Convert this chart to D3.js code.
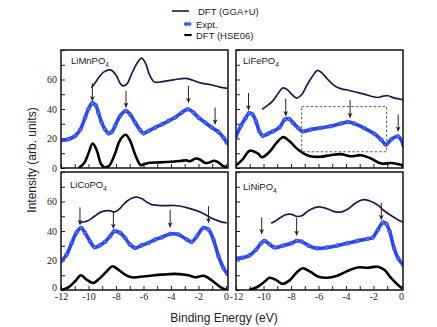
<!DOCTYPE html>
<html>
<head>
<meta charset="utf-8">
<script src="https://cdn.jsdelivr.net/npm/d3@7"></script>
<style>
  body { margin: 0; background: #fff; }
  svg { display: block; }
</style>
</head>
<body>
<svg id="chart" width="437" height="327"></svg>
<script>
// values: [binding energy (eV), intensity]
var mnGGA = [[-9.78,54.5],[-9.5,58],[-9.2,62],[-8.9,65],[-8.4,66.5],[-8.0,63],[-7.7,57.5],[-7.5,55.7],[-7.2,57],[-6.9,63],[-6.5,70.5],[-6.15,74.5],[-5.85,71],[-5.55,63],[-5.2,58.3],[-4.6,58.6],[-3.8,59.8],[-2.9,60.8],[-2.4,59.5],[-1.8,57.5],[-1.0,56.3],[-0.5,55],[0.1,54]];
var mnExpt = [[-12,18.8],[-11.47,19.5],[-10.98,21.7],[-10.6,26],[-10.25,34],[-10.0,40],[-9.72,44],[-9.47,42.5],[-9.28,37.5],[-9.04,30.8],[-8.8,26.2],[-8.55,23.5],[-8.31,24.4],[-8.07,28.5],[-7.7,35.3],[-7.29,38.7],[-6.98,36.4],[-6.6,30.8],[-6.25,25.8],[-6.0,23.5],[-5.64,25.1],[-5.16,27.4],[-4.67,29.6],[-4.18,31.9],[-3.7,34.2],[-3.21,37.6],[-2.78,39.8],[-2.36,37.6],[-2.0,34.2],[-1.51,30.8],[-1.03,27.4],[-0.54,24.4],[-0.18,20.6],[0.06,17.2]];
var mnHSE = [[-10.7,0],[-10.3,3.5],[-10.0,10],[-9.7,16.6],[-9.4,12],[-9.1,3],[-8.85,0.5],[-8.5,1.5],[-8.1,9],[-7.7,19],[-7.3,22.5],[-7.0,19],[-6.6,9],[-6.2,2],[-5.9,2.8],[-5.5,3.6],[-4.8,3.8],[-4.0,4.2],[-3.3,4.8],[-2.9,5.2],[-2.6,4.6],[-2.2,6.4],[-1.9,5.8],[-1.5,3.4],[-1.2,3.8],[-0.85,4.9],[-0.5,3.5],[-0.2,1.2],[0.1,0.3]];
var mnArrows = [[-9.72,57.5,45.5],[-7.27,52.3,41],[-2.73,55.7,44.3],[-0.79,41,29.6]];

var feGGA = [[-10.1,39.8],[-9.7,42.5],[-9.32,45.5],[-8.9,51],[-8.58,54.3],[-8.25,53],[-7.96,50.1],[-7.59,47.4],[-7.2,50],[-6.85,55.9],[-6.45,62],[-6.06,66.2],[-5.7,64],[-5.37,60.5],[-5.0,57],[-4.64,54.7],[-4.2,53.3],[-3.9,52.9],[-3.3,51.5],[-2.67,50.1],[-2.1,48.5],[-1.68,47.8],[-1.3,48.7],[-0.94,49],[-0.5,47.5],[0.17,46.2]];
var feExpt = [[-12.0,21.4],[-11.66,28.3],[-11.29,34],[-11.05,37.2],[-10.8,36.3],[-10.55,31.7],[-10.3,24.8],[-10.05,21.8],[-9.68,23.2],[-9.32,24.8],[-8.82,27.6],[-8.45,32.9],[-8.13,33.3],[-7.84,30.6],[-7.47,27.1],[-7.15,24.8],[-6.6,26],[-5.87,27.1],[-5.13,28.3],[-4.39,30.1],[-3.85,31.2],[-3.4,30.1],[-2.67,27.1],[-1.93,23.2],[-1.43,19.1],[-1.1,15.8],[-0.69,19.5],[-0.2,21.4],[0.17,15.6]];
var feHSE = [[-12.0,1.8],[-11.53,5.7],[-11.0,11.7],[-10.42,9.9],[-10.1,7.3],[-9.56,11],[-9.07,16.8],[-8.58,20.9],[-8.08,17.9],[-7.59,13.3],[-7.1,9.9],[-6.6,8],[-5.87,7.6],[-5.13,8.7],[-4.39,9.4],[-3.65,8],[-2.91,8.7],[-2.17,6.4],[-1.43,3],[-0.69,3.4],[0.17,1.8]];
var feArrows = [[-11.09,50.8,39.1],[-8.38,47.1,35.2],[-3.7,46,34],[-0.2,36.3,24.8]];
var feBox = [-7.22,-1.04,11,41.6];

var coGGA = [[-10.69,45.5],[-10.3,46.3],[-10.01,47.1],[-9.7,49],[-9.4,51.1],[-9.1,52.8],[-8.8,53.6],[-8.5,53.8],[-8.1,53],[-7.8,54.5],[-7.5,57.5],[-7.2,60.2],[-6.85,62.2],[-6.45,62.9],[-6.1,61.8],[-5.75,59.5],[-5.4,57.9],[-4.67,57.2],[-3.8,57.3],[-3.2,56.6],[-2.73,55.5],[-2.2,54],[-1.8,52.5],[-1.3,50],[-0.79,47.7],[-0.35,46.2],[0.06,45.5]];
var coExpt = [[-12,19.5],[-11.59,24],[-11.22,31.9],[-10.86,39.1],[-10.54,42.1],[-10.25,38.7],[-9.89,33],[-9.57,29],[-9.16,30.3],[-8.8,32.6],[-8.43,36.4],[-8.12,39.8],[-7.7,38.7],[-7.34,35.3],[-6.98,30.8],[-6.61,28.5],[-6.13,30.3],[-5.64,31.9],[-5.16,34.2],[-4.67,35.7],[-4.06,38],[-3.46,37.6],[-2.85,34.2],[-2.49,32.6],[-2.12,36.4],[-1.64,42.1],[-1.27,41],[-0.91,34.2],[-0.54,22.9],[-0.18,14.9],[0.11,10.9]];
var coHSE = [[-12,0],[-11.47,1.8],[-10.98,5.9],[-10.54,10],[-10.13,7],[-9.65,4.8],[-9.16,8.1],[-8.67,12.7],[-8.26,16.1],[-7.83,13.8],[-7.34,10.4],[-6.85,8.6],[-5.88,9.3],[-4.67,10.4],[-3.7,10.9],[-2.73,10],[-2.24,8.6],[-1.64,9.7],[-1.27,8.1],[-0.79,4.8],[-0.3,1.4],[0.06,0]];
var coArrows = [[-10.62,56.1,44.3],[-8.19,53.4,41.6],[-4.06,54.5,42.5],[-1.27,56.8,45.5]];

var niGGA = [[-9.44,45.3],[-9.1,47],[-8.82,48.8],[-8.4,51],[-8.08,51.5],[-7.8,50.8],[-7.59,49.9],[-7.22,50.3],[-6.9,52.5],[-6.61,54.4],[-5.99,56.3],[-5.37,55.1],[-4.95,53.5],[-4.64,52.8],[-4.3,53],[-4.02,54],[-3.7,56],[-3.4,58.3],[-3.0,60.5],[-2.67,61.3],[-2.3,60.5],[-1.93,59],[-1.6,57],[-1.31,54.4],[-0.69,50.3],[-0.2,47.5],[0.17,46]];
var niExpt = [[-12,21.5],[-11.53,21.9],[-11.04,23.3],[-10.55,27.2],[-10.18,31.7],[-9.93,33.3],[-9.56,31],[-9.19,28.8],[-8.58,30.1],[-7.96,31.7],[-7.59,33.3],[-7.22,32.8],[-6.73,30.1],[-6.11,28.3],[-5.37,28.8],[-4.64,30.1],[-3.9,31.7],[-3.16,33.3],[-2.42,34.7],[-2.05,35.6],[-1.68,40.8],[-1.31,45.8],[-1.06,44.7],[-0.82,39.7],[-0.5,28.3],[-0.2,21.5],[0.17,16.9]];
var niHSE = [[-11.04,0],[-10.42,2.2],[-9.93,5.6],[-9.56,8.3],[-9.07,6.7],[-8.63,4.2],[-8.08,6.7],[-7.59,11.9],[-7.15,14.7],[-6.61,12.4],[-5.99,9],[-5.37,8.3],[-4.64,9.7],[-3.9,12.8],[-3.16,15.3],[-2.42,15.1],[-1.68,15.8],[-1.19,13.5],[-0.69,7.8],[-0.2,3.3],[0.09,1]];
var niArrows = [[-10.13,49.2,38],[-7.59,48.8,36.9],[-1.43,59,47.6]];

var xTicks = d3.range(-12, 1, 1);
var yTicks = d3.range(0, 90, 10);
var compounds = ["LiMnPO", "LiFePO", "LiCoPO", "LiNiPO"];

var colGGA = "#2b1150", colExpt = "#2447ff", colHSE = "#000";

var svg = d3.select("#chart");
var pw = 167, ph = 118;

// panel placement (layout only)
var panels = [
  {name: compounds[0], gga: mnGGA, expt: mnExpt, hse: mnHSE, arrows: mnArrows, x0: 61,  y0: 50,  left: true,  bottom: false, lx: 10, ly: 14},
  {name: compounds[1], gga: feGGA, expt: feExpt, hse: feHSE, arrows: feArrows, x0: 236, y0: 50,  left: false, bottom: false, lx: 7,  ly: 14},
  {name: compounds[2], gga: coGGA, expt: coExpt, hse: coHSE, arrows: coArrows, x0: 61,  y0: 172, left: true,  bottom: true,  lx: 9,  ly: 16},
  {name: compounds[3], gga: niGGA, expt: niExpt, hse: niHSE, arrows: niArrows, x0: 236, y0: 172, left: false, bottom: true,  lx: 7,  ly: 18}
];

var x = d3.scaleLinear().domain([-12, 0.15]).range([0, pw]);
var y = d3.scaleLinear().domain([0, 80]).range([ph, 0]);

var line = d3.line()
  .x(function(d) { return x(d[0]); })
  .y(function(d) { return y(d[1]); })
  .curve(d3.curveCatmullRom.alpha(0.5));

var defs = svg.append("defs");
defs.append("marker")
  .attr("id", "arrow")
  .attr("viewBox", "0 0 10 10")
  .attr("refX", 10).attr("refY", 5)
  .attr("markerWidth", 5).attr("markerHeight", 6)
  .attr("markerUnits", "userSpaceOnUse")
  .attr("orient", "auto")
  .append("path")
  .attr("d", "M0,0 L10,5 L0,10 L3,5 z")
  .attr("fill", "#222");

panels.forEach(function(p, i) {
  defs.append("clipPath").attr("id", "clip" + i)
    .append("rect").attr("width", pw).attr("height", ph);

  var g = svg.append("g")
    .attr("transform", "translate(" + p.x0 + "," + p.y0 + ")");

  // axes with inward ticks
  var xa = g.append("g")
    .attr("transform", "translate(0," + ph + ")")
    .call(d3.axisBottom(x).tickValues(xTicks).tickSize(-4).tickPadding(3)
      .tickFormat(function(d) { return (p.bottom && d % 2 === 0) ? String(d) : ""; }));
  var ya = g.append("g")
    .call(d3.axisLeft(y).tickValues(yTicks).tickSize(-4).tickPadding(4)
      .tickFormat(function(d) { return (p.left && d % 20 === 0 && d < 80) ? String(d) : ""; }));
  [xa, ya].forEach(function(a) {
    a.select(".domain").remove();
    a.selectAll("line").attr("stroke", "#222");
    a.selectAll("text")
      .attr("fill", "#222")
      .style("font-family", "'Liberation Serif', 'DejaVu Serif', serif")
      .style("font-size", "10px");
  });
  // the 0 label sits just above the -12 label in the bottom row
  if (p.bottom) ya.selectAll(".tick text").filter(function(d) { return d === 0; }).attr("y", -3);

  var c = g.append("g").attr("clip-path", "url(#clip" + i + ")");

  c.append("path")
    .datum(p.gga)
    .attr("fill", "none")
    .attr("stroke", colGGA)
    .attr("stroke-width", 1.7)
    .attr("d", line);

  c.append("path")
    .datum(p.expt)
    .attr("fill", "none")
    .attr("stroke", colExpt)
    .attr("stroke-width", 3.6)
    .attr("d", line);

  c.selectAll(".pt")
    .data(p.expt)
    .enter().append("circle")
    .attr("class", "pt")
    .attr("cx", function(d) { return x(d[0]); })
    .attr("cy", function(d) { return y(d[1]); })
    .attr("r", 1.8)
    .attr("fill", "#5d72ff")
    .attr("stroke", colExpt)
    .attr("stroke-width", 0.9);

  c.append("path")
    .datum(p.hse)
    .attr("fill", "none")
    .attr("stroke", colHSE)
    .attr("stroke-width", 2.6)
    .attr("d", line);

  // arrows marking features
  g.selectAll(".arr")
    .data(p.arrows)
    .enter().append("line")
    .attr("class", "arr")
    .attr("x1", function(d) { return x(d[0]); })
    .attr("x2", function(d) { return x(d[0]); })
    .attr("y1", function(d) { return y(d[1]); })
    .attr("y2", function(d) { return y(d[2]); })
    .attr("stroke", "#222")
    .attr("stroke-width", 1)
    .attr("marker-end", "url(#arrow)");

  if (i === 1) {
    g.append("rect")
      .attr("x", x(feBox[0]))
      .attr("y", y(feBox[3]))
      .attr("width", x(feBox[1]) - x(feBox[0]))
      .attr("height", y(feBox[2]) - y(feBox[3]))
      .attr("fill", "none")
      .attr("stroke", "#444")
      .attr("stroke-width", 0.9)
      .attr("stroke-dasharray", "2.5,2");
  }

  var lab = g.append("text")
    .attr("x", p.lx)
    .attr("y", p.ly)
    .attr("fill", "#222")
    .style("font-family", "'Liberation Sans', Arial, sans-serif")
    .style("font-size", "9.5px")
    .text(p.name);
  lab.append("tspan")
    .attr("dy", 3)
    .style("font-size", "6.5px")
    .text("4");

  g.append("rect")
    .attr("width", pw)
    .attr("height", ph)
    .attr("fill", "none")
    .attr("stroke", "#111")
    .attr("stroke-width", 1.5);
});

// axis titles
svg.append("text")
  .attr("transform", "translate(36,160) rotate(-90)")
  .attr("text-anchor", "middle")
  .attr("fill", "#222")
  .style("font-family", "'Liberation Sans', Arial, sans-serif")
  .style("font-size", "12px")
  .text("Intensity (arb. units)");

svg.append("text")
  .attr("x", 224)
  .attr("y", 322)
  .attr("text-anchor", "middle")
  .attr("fill", "#222")
  .style("font-family", "'Liberation Sans', Arial, sans-serif")
  .style("font-size", "12px")
  .text("Binding Energy (eV)");

// legend
var lg = svg.append("g").style("font-family", "'Liberation Sans', Arial, sans-serif").style("font-size", "9.5px");
lg.append("line").attr("x1", 172).attr("x2", 189).attr("y1", 11).attr("y2", 11)
  .attr("stroke", colGGA).attr("stroke-width", 1.6);
lg.append("text").attr("x", 198).attr("y", 14.5).attr("fill", "#222").text("DFT (GGA+U)");

lg.selectAll(".lpt").data([186, 189.5]).enter().append("circle")
  .attr("cx", function(d) { return d; }).attr("cy", 24).attr("r", 1.6)
  .attr("fill", "#5d72ff").attr("stroke", colExpt).attr("stroke-width", 0.9);
lg.append("text").attr("x", 196).attr("y", 27.5).attr("fill", "#222").text("Expt.");

lg.append("line").attr("x1", 185).attr("x2", 191).attr("y1", 35).attr("y2", 35)
  .attr("stroke", colHSE).attr("stroke-width", 2);
lg.selectAll(".lhp").data([185.5, 190.5]).enter().append("circle")
  .attr("cx", function(d) { return d; }).attr("cy", 35).attr("r", 1.3)
  .attr("fill", colHSE);
lg.append("text").attr("x", 196).attr("y", 38.5).attr("fill", "#222").text("DFT (HSE06)");
</script>
</body>
</html>
